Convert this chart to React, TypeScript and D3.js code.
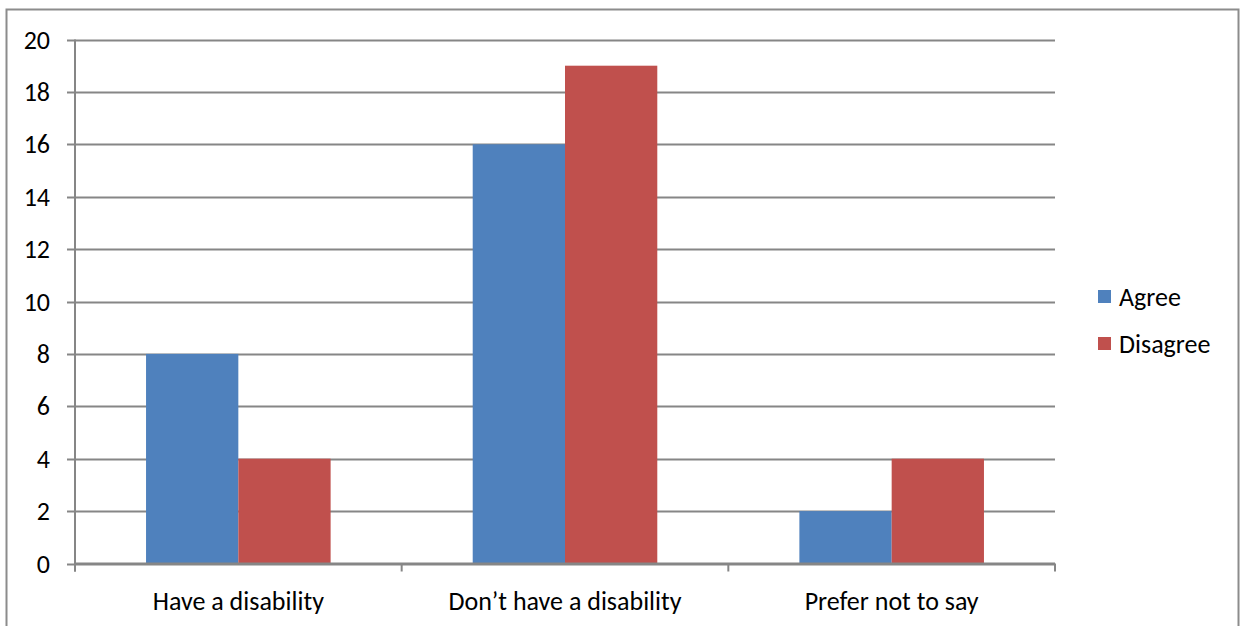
import React from "react";
import * as d3 from "d3";

const categories = ["Have a disability", "Don\u2019t have a disability", "Prefer not to say"];
const seriesNames = ["Agree", "Disagree"];
const agree = [8, 16, 2];
const disagree = [4, 19, 4];
const yTicks = [0, 2, 4, 6, 8, 10, 12, 14, 16, 18, 20];
const colors = ["#4F81BD", "#C0504D"];

export default function App() {
  const W = 1240, H = 626;
  const left = 75, right = 1055, top = 39.5, bottom = 563.5;
  const x = d3.scaleBand().domain(categories).range([left, right]).paddingInner(0).paddingOuter(0);
  const y = d3.scaleLinear().domain([0, 20]).range([bottom, top]);
  const sub = d3.scaleBand().domain(seriesNames).range([0, x.bandwidth()]).paddingInner(0).paddingOuter(0.7698);
  const values = [agree, disagree];
  const font = "Carlito, Calibri, 'Liberation Sans', Arial, sans-serif";
  const grid = "#868686";
  const fs = 26;
  return (
    <svg width={W} height={H} style={{ position: "absolute", left: 0, top: 0, background: "#fff" }} fontFamily={font}>
      <rect x={6.5} y={9.5} width={1232} height={640} fill="#fff" stroke="#8c8c8c" strokeWidth={2} />
      {yTicks.map((t) => (
        <g key={t}>
          <line x1={left - 8} x2={right} y1={Math.round(y(t)) + 0.5} y2={Math.round(y(t)) + 0.5} stroke={grid} strokeWidth={2} />
          <text x={50} y={y(t)} textAnchor="end" dominantBaseline="central" fontSize={fs} fill="#000">{t}</text>
        </g>
      ))}
      {categories.map((c, i) =>
        seriesNames.map((s, j) => (
          <rect key={c + s} x={(x(c) as number) + (sub(s) as number)} y={y(values[j][i])}
            width={sub.bandwidth()} height={y(0) - y(values[j][i])} fill={colors[j]} />
        ))
      )}
      <line x1={left} x2={left} y1={top} y2={bottom + 8} stroke={grid} strokeWidth={2} />
      <line x1={left} x2={right} y1={bottom} y2={bottom} stroke={grid} strokeWidth={2} />
      {[...categories.map((c) => x(c) as number), right].map((p, i) => (
        <line key={i} x1={p} x2={p} y1={bottom} y2={bottom + 8} stroke={grid} strokeWidth={2} />
      ))}
      {categories.map((c) => (
        <text key={c} x={(x(c) as number) + x.bandwidth() / 2} y={601} textAnchor="middle" dominantBaseline="central" fontSize={fs} fill="#000">{c}</text>
      ))}
      {seriesNames.map((s, j) => (
        <g key={s}>
          <rect x={1098} y={290 + j * 47} width={13} height={13} fill={colors[j]} />
          <text x={1119} y={297 + j * 47} dominantBaseline="central" fontSize={fs} fill="#000">{s}</text>
        </g>
      ))}
    </svg>
  );
}
